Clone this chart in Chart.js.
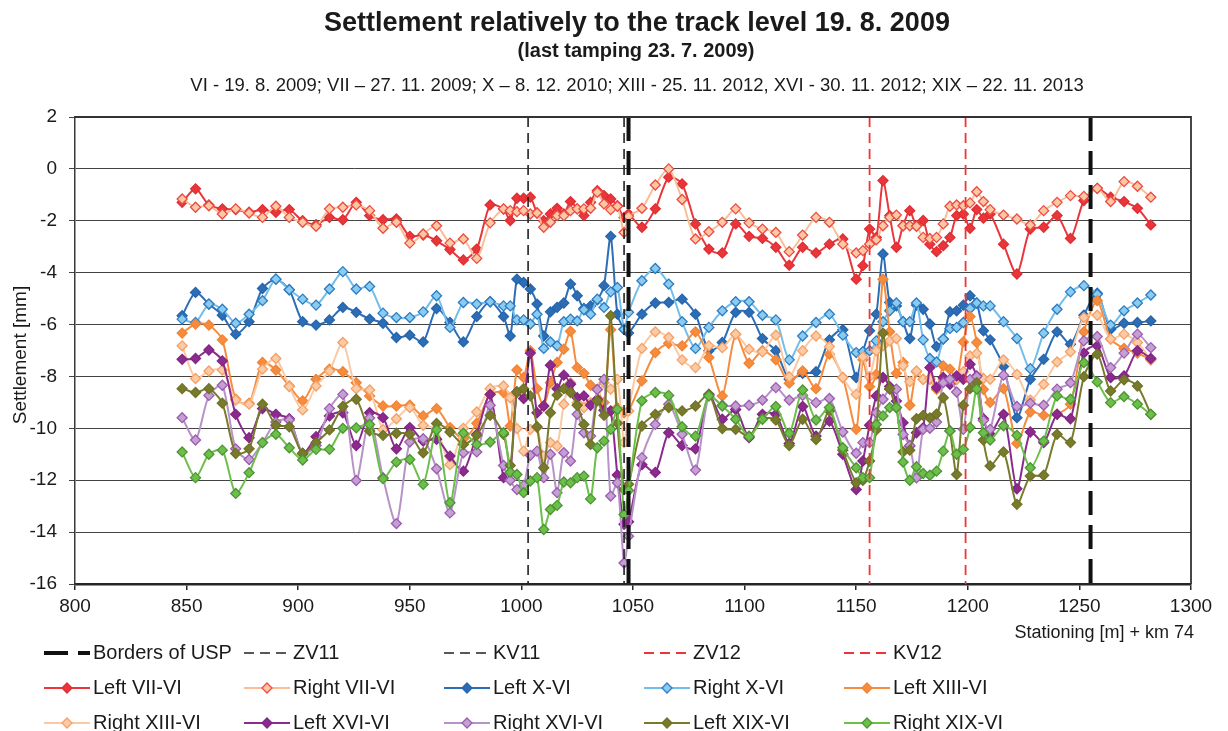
<!DOCTYPE html>
<html><head><meta charset="utf-8">
<script src="https://cdn.jsdelivr.net/npm/chart.js@4.4.1/dist/chart.umd.min.js"></script>
<style>html,body{margin:0;padding:0;background:#fff;overflow:hidden}</style>
</head><body>
<canvas id="c" width="1228" height="731"></canvas>
<script>
// ---------- DATA ----------
const titleMain = 'Settlement relatively to the track level 19. 8. 2009';
const titleSub = '(last tamping 23. 7. 2009)';
const titleDates = 'VI - 19. 8. 2009; VII \u2013 27. 11. 2009; X \u2013 8. 12. 2010; XIII - 25. 11. 2012, XVI - 30. 11. 2012; XIX \u2013 22. 11. 2013';
const yAxisTitle = 'Settlement [mm]';
const xAxisTitle = 'Stationing [m] + km 74';
const xTicks = [800, 850, 900, 950, 1000, 1050, 1100, 1150, 1200, 1250, 1300];
const yTicks = [-16, -14, -12, -10, -8, -6, -4, -2, 0, 2];

const stations = [
 848,854,860,866,872,878,884,890,896,902,908,914,920,926,932,938,944,950,956,962,968,974,980,986,992,
 995,998,1001,1004,1007,1010,1013,1016,1019,1022,1025,1028,1031,1034,1037,1040,1043,1046,
 1048,
 1054,1060,1066,1072,1078,1084,1090,1096,1102,1108,1114,1120,1126,1132,1138,1144,1150,
 1153,1156,1159,1162,1165,1168,1171,1174,1177,1180,1183,1186,1189,1192,1195,1198,1201,1204,1207,1210,
 1216,1222,1228,1234,1240,1246,1252,1258,1264,1270,1276,1282];

const leftVII = [
 -1.29,-0.77,-1.39,-1.54,-1.57,-1.67,-1.57,-1.67,-1.57,-2.00,-2.15,-1.87,-1.96,-1.29,-1.80,-1.96,-1.93,-2.60,-2.55,-2.77,-3.11,-3.51,-3.09,-1.39,-1.55,
 -1.99,-1.13,-1.13,-1.09,-1.70,-2.00,-1.74,-1.52,-1.74,-1.26,-1.54,-1.80,-1.29,-0.84,-1.03,-1.16,-1.42,-1.87,
 -1.74,
 -2.25,-1.54,-0.32,-0.58,-2.12,-3.09,-3.24,-2.12,-2.60,-2.68,-3.02,-3.71,-3.02,-3.24,-2.90,-2.70,-4.25,
 -3.73,-2.32,-2.64,-0.45,-1.80,-3.02,-2.19,-1.61,-2.19,-1.99,-2.90,-3.19,-2.96,-2.64,-1.80,-1.74,-2.29,-1.57,-1.90,-1.74,
 -2.90,-4.05,-2.32,-2.25,-1.80,-2.68,-1.22,-0.75,-1.09,-1.26,-1.52,-2.16];
const rightVII = [
 -1.16,-1.48,-1.42,-1.74,-1.54,-1.70,-1.87,-1.44,-1.87,-2.06,-2.21,-1.54,-1.48,-1.39,-1.61,-2.29,-2.06,-2.86,-2.51,-2.19,-2.86,-2.70,-3.45,-2.08,-1.54,
 -1.61,-1.65,-1.61,-1.74,-1.70,-2.25,-2.06,-1.80,-1.80,-1.61,-1.54,-1.54,-1.52,-0.90,-1.35,-1.57,-1.44,-2.45,
 -1.83,
 -1.52,-0.62,0.00,-1.18,-2.70,-2.42,-2.06,-1.54,-2.08,-2.32,-2.45,-3.19,-2.55,-1.87,-2.06,-2.90,-3.24,
 -3.15,-2.90,-2.73,-2.19,-1.87,-1.78,-2.19,-2.19,-2.21,-2.64,-2.68,-2.64,-2.12,-1.44,-1.39,-1.42,-1.31,-0.88,-1.26,-1.57,
 -1.78,-1.93,-2.16,-1.61,-1.29,-1.03,-1.06,-0.75,-1.26,-0.49,-0.67,-1.09];
const leftX = [
 -5.66,-4.76,-5.21,-5.64,-6.37,-5.89,-4.61,-4.25,-4.66,-5.89,-6.02,-5.82,-5.34,-5.53,-5.79,-5.95,-6.50,-6.41,-6.67,-5.38,-5.92,-6.67,-5.69,-5.12,-5.69,
 -6.44,-4.25,-4.38,-4.63,-5.21,-6.44,-5.51,-5.34,-5.17,-4.44,-4.89,-5.38,-5.28,-5.05,-4.50,-2.60,-5.60,-6.18,
 -6.33,
 -5.60,-5.17,-5.15,-5.02,-5.60,-7.01,-6.69,-5.53,-5.53,-6.54,-7.01,-8.11,-7.88,-7.82,-6.59,-6.20,-8.04,
 -7.05,-6.24,-5.60,-3.28,-5.15,-5.28,-5.89,-6.54,-5.25,-5.41,-5.98,-6.85,-6.56,-5.51,-5.47,-5.25,-4.89,-5.17,-6.24,-6.59,
 -7.62,-9.59,-8.11,-7.34,-6.28,-6.76,-5.64,-4.79,-6.18,-5.95,-5.92,-5.86];
const rightX = [
 -5.79,-5.92,-5.21,-5.41,-5.95,-5.60,-5.08,-4.25,-4.66,-5.02,-5.25,-4.63,-3.96,-4.63,-4.53,-5.56,-5.73,-5.73,-5.51,-4.89,-6.11,-5.15,-5.21,-5.12,-5.28,
 -5.28,-5.82,-5.82,-5.98,-5.60,-6.92,-6.67,-6.82,-5.89,-5.79,-5.86,-5.43,-5.60,-5.02,-5.34,-4.74,-4.57,-6.18,
 -5.53,
 -4.31,-3.84,-4.44,-5.89,-6.92,-6.11,-5.47,-5.12,-5.12,-5.64,-5.82,-7.36,-6.44,-5.92,-5.60,-6.41,-7.08,
 -7.05,-7.01,-6.63,-5.89,-5.47,-5.17,-5.89,-5.89,-5.17,-6.59,-7.31,-7.44,-6.56,-6.15,-6.11,-5.92,-5.38,-5.17,-5.28,-5.28,
 -5.89,-6.54,-7.70,-6.33,-5.41,-4.74,-4.50,-4.83,-6.02,-5.47,-5.17,-4.86];
const leftXIII = [
 -6.33,-5.98,-6.02,-6.59,-8.88,-9.03,-7.46,-7.75,-8.37,-8.94,-8.11,-7.72,-7.82,-8.24,-8.75,-9.14,-9.14,-9.11,-9.52,-9.24,-9.97,-10.40,-9.80,-8.70,-8.62,
 -9.91,-7.75,-8.04,-7.01,-8.47,-9.14,-8.24,-7.46,-6.95,-6.26,-7.66,-7.88,-8.34,-8.50,-9.00,-6.20,-9.20,-9.40,
 -9.33,
 -8.17,-7.08,-6.72,-6.82,-6.28,-7.27,-8.75,-6.37,-7.49,-7.01,-7.36,-8.26,-7.79,-8.47,-7.14,-8.04,-10.04,
 -7.36,-8.39,-7.92,-4.25,-6.28,-7.88,-7.46,-9.11,-7.82,-8.11,-8.11,-8.50,-7.59,-7.72,-8.11,-6.67,-5.69,-6.69,-8.50,-9.00,
 -8.47,-10.58,-9.37,-9.50,-9.45,-9.07,-6.28,-5.08,-6.56,-6.92,-7.10,-7.36];
const rightXIII = [
 -6.82,-8.08,-7.79,-7.75,-8.91,-9.07,-7.72,-7.31,-8.39,-9.29,-8.37,-7.79,-6.69,-8.47,-8.52,-10.05,-9.63,-9.20,-9.88,-10.01,-11.40,-10.00,-9.37,-8.47,-8.37,
 -8.82,-10.01,-10.88,-10.04,-9.97,-11.07,-10.55,-10.68,-9.07,-8.24,-9.01,-9.20,-9.01,-8.91,-8.24,-8.49,-8.11,-10.55,
 -9.33,
 -6.92,-6.28,-6.50,-7.36,-7.66,-6.82,-6.89,-6.37,-6.95,-7.05,-6.41,-8.01,-7.01,-6.44,-6.85,-8.04,-8.69,
 -7.24,-8.01,-7.01,-6.82,-6.63,-6.54,-7.59,-8.20,-7.79,-8.11,-8.08,-8.39,-8.11,-8.11,-8.11,-7.82,-7.21,-7.11,-8.08,-8.11,
 -7.36,-7.92,-8.91,-8.30,-7.44,-7.05,-5.73,-5.64,-6.56,-6.37,-6.69,-7.36];
const leftXVI = [
 -7.34,-7.31,-6.98,-7.40,-9.46,-10.36,-9.24,-9.46,-9.63,-10.97,-10.32,-9.52,-9.40,-10.66,-9.40,-9.59,-10.79,-9.97,-10.49,-10.42,-11.07,-11.65,-10.23,-8.69,-11.90,
 -11.70,-8.60,-8.85,-7.10,-9.40,-9.14,-7.57,-8.47,-7.95,-8.30,-8.82,-8.75,-9.11,-8.88,-9.30,-9.33,-11.80,-13.70,
 -13.60,
 -11.40,-11.70,-10.17,-10.66,-10.79,-8.69,-9.65,-9.27,-10.36,-9.46,-9.46,-10.58,-9.16,-10.30,-9.72,-11.00,-12.36,
 -11.26,-9.88,-8.75,-8.04,-8.39,-8.95,-9.78,-10.68,-10.17,-9.98,-7.66,-8.43,-8.04,-8.30,-7.98,-8.11,-7.53,-7.98,-9.63,-10.23,
 -9.46,-12.33,-10.14,-10.55,-9.46,-9.63,-7.10,-6.82,-8.04,-7.98,-7.01,-7.31];
const rightXVI = [
 -9.59,-10.45,-8.73,-8.34,-10.79,-11.20,-10.55,-9.76,-9.68,-10.97,-10.66,-9.24,-8.69,-12.01,-9.60,-11.90,-13.67,-10.53,-10.40,-11.56,-13.26,-10.94,-10.91,-9.11,-11.43,
 -12.00,-12.36,-12.20,-11.04,-10.88,-11.90,-11.00,-12.48,-10.94,-11.26,-9.46,-10.17,-10.30,-8.50,-8.11,-12.61,-12.10,-15.19,
 -14.16,
 -11.13,-9.85,-9.07,-10.23,-11.61,-8.75,-9.11,-9.14,-9.11,-8.91,-8.43,-8.91,-8.73,-9.01,-8.85,-10.14,-10.96,
 -10.55,-10.55,-9.40,-8.88,-8.49,-8.49,-10.24,-10.66,-11.91,-10.04,-10.00,-9.76,-8.24,-8.11,-8.60,-10.04,-8.11,-8.00,-9.70,-10.04,
 -7.95,-9.16,-9.03,-9.11,-8.49,-8.24,-6.63,-6.46,-7.66,-7.10,-6.37,-6.89];
const leftXIX = [
 -8.47,-8.62,-8.47,-9.03,-10.97,-10.79,-9.07,-9.88,-9.94,-10.97,-10.55,-10.06,-9.16,-8.88,-10.10,-10.27,-10.19,-10.23,-10.94,-9.81,-10.14,-10.62,-10.27,-9.50,-10.23,
 -11.43,-8.60,-8.47,-8.75,-9.94,-11.52,-9.40,-8.72,-8.47,-8.62,-9.11,-9.85,-10.62,-8.94,-9.50,-5.66,-9.80,-12.36,
 -12.16,
 -9.91,-9.46,-9.20,-9.33,-9.14,-8.69,-10.01,-10.04,-10.30,-9.63,-9.68,-10.66,-9.65,-10.43,-9.33,-10.84,-12.10,
 -12.00,-11.26,-10.06,-6.33,-8.47,-9.20,-10.91,-10.84,-9.63,-9.50,-9.60,-9.45,-8.82,-10.10,-11.78,-9.11,-8.47,-8.24,-10.45,-11.45,
 -10.91,-12.93,-11.84,-11.81,-10.23,-10.55,-8.01,-7.14,-8.56,-8.13,-8.37,-9.46];
const rightXIX = [
 -10.91,-11.90,-11.00,-10.84,-12.51,-11.71,-10.55,-10.23,-10.75,-11.22,-10.81,-10.81,-10.00,-9.98,-9.85,-11.94,-11.30,-11.20,-12.16,-10.06,-12.87,-10.19,-10.62,-10.53,-10.17,
 -11.69,-11.78,-12.48,-12.03,-11.90,-13.90,-13.13,-12.97,-12.07,-12.10,-11.90,-11.84,-12.72,-10.75,-10.49,-10.04,-9.27,-13.32,
 -12.40,
 -8.94,-8.62,-8.73,-9.94,-10.30,-8.75,-9.14,-9.65,-10.32,-9.65,-9.16,-10.19,-8.52,-9.68,-9.20,-10.75,-11.52,
 -11.90,-11.90,-9.85,-9.52,-9.20,-9.20,-11.30,-12.00,-11.48,-11.74,-11.81,-11.65,-10.88,-10.10,-11.00,-10.81,-9.97,-8.49,-10.17,-10.45,
 -9.90,-10.27,-11.52,-10.49,-8.75,-8.88,-7.47,-8.21,-9.01,-8.78,-9.07,-9.46];

// vertical reference lines (stationing)
const uspBorders = [1048, 1255];
const zv11 = [1003];
const kv11 = [1046];
const zv12 = [1156];
const kv12 = [1199];

// ---------- BUILD ----------
const FONT = '"Liberation Sans", Arial, Helvetica, sans-serif';
const yMin = yTicks[0], yMax = yTicks[yTicks.length - 1];

function vline(xs) {
  const p = [];
  xs.forEach((x, i) => {
    if (i > 0) p.push({x: x - 1, y: null});
    p.push({x: x, y: yMax}, {x: x, y: yMin});
  });
  return p;
}
function pts(arr) { return stations.map((s, i) => ({x: s, y: arr[i]})); }

const vlines = [
  {label: 'Borders of USP', xs: uspBorders, color: '#111111', width: 4, dash: [24, 10]},
  {label: 'ZV11', xs: zv11, color: '#222222', width: 1.6, dash: [10, 6]},
  {label: 'KV11', xs: kv11, color: '#222222', width: 1.6, dash: [10, 6]},
  {label: 'ZV12', xs: zv12, color: '#EE3434', width: 1.8, dash: [10, 6]},
  {label: 'KV12', xs: kv12, color: '#EE3434', width: 1.8, dash: [10, 6]}
];
const series = [
  {label: 'Left VII-VI', v: leftVII, line: '#E8363A', fill: '#E8363A', edge: '#E02E33'},
  {label: 'Right VII-VI', v: rightVII, line: '#F9BE96', fill: '#FBC8A4', edge: '#EE4A44'},
  {label: 'Left X-VI', v: leftX, line: '#2C6DB5', fill: '#2C6DB5', edge: '#2766AC'},
  {label: 'Right X-VI', v: rightX, line: '#71BEEA', fill: '#8ACBF0', edge: '#2E7CC2'},
  {label: 'Left XIII-VI', v: leftXIII, line: '#F68C3E', fill: '#F68C3E', edge: '#F28435'},
  {label: 'Right XIII-VI', v: rightXIII, line: '#FBC9A3', fill: '#FBCBA6', edge: '#F5A066'},
  {label: 'Left XVI-VI', v: leftXVI, line: '#8B2B8E', fill: '#8B2B8E', edge: '#832585'},
  {label: 'Right XVI-VI', v: rightXVI, line: '#B792C8', fill: '#C49FD2', edge: '#9C5CB0'},
  {label: 'Left XIX-VI', v: leftXIX, line: '#787A2C', fill: '#787A2C', edge: '#707226'},
  {label: 'Right XIX-VI', v: rightXIX, line: '#6CC04A', fill: '#6CC04A', edge: '#4E9436'}
];

const datasets = [];
vlines.forEach((d, i) => datasets.push({
  label: d.label, data: vline(d.xs), borderColor: d.color, borderWidth: d.width,
  borderDash: d.dash, pointRadius: 0, tension: 0, spanGaps: false, order: i
}));
series.forEach((s, i) => datasets.push({
  label: s.label, data: pts(s.v), borderColor: s.line, backgroundColor: s.fill,
  borderWidth: 2, pointStyle: 'rectRot', pointRadius: 5, pointBorderWidth: 1.3,
  pointBackgroundColor: s.fill, pointBorderColor: s.edge, tension: 0.25,
  order: 100 - i, _mk: true
}));

function diamond(ctx, x, y, r) {
  ctx.beginPath();
  ctx.moveTo(x, y - r); ctx.lineTo(x + r, y); ctx.lineTo(x, y + r); ctx.lineTo(x - r, y);
  ctx.closePath();
}

const decor = {
  id: 'decor',
  afterDraw(chart) {
    const ctx = chart.ctx, a = chart.chartArea;
    ctx.save();
    // plot frame (top and right)
    ctx.strokeStyle = '#333333'; ctx.lineWidth = 1.8;
    ctx.beginPath();
    ctx.moveTo(a.left, a.top); ctx.lineTo(a.right, a.top); ctx.lineTo(a.right, a.bottom);
    ctx.stroke();
    // titles
    ctx.fillStyle = '#1a1a1a'; ctx.textAlign = 'center'; ctx.textBaseline = 'middle';
    ctx.font = 'bold 27px ' + FONT; ctx.fillText(titleMain, 637, 24);
    ctx.font = 'bold 20px ' + FONT; ctx.fillText(titleSub, 636, 51);
    ctx.font = '18.5px ' + FONT; ctx.fillText(titleDates, 637, 86);
    // axis titles
    ctx.save(); ctx.translate(21, 355); ctx.rotate(-Math.PI / 2);
    ctx.font = '19px ' + FONT; ctx.fillText(yAxisTitle, 0, 0); ctx.restore();
    ctx.textAlign = 'right'; ctx.font = '18px ' + FONT;
    ctx.fillText(xAxisTitle, 1194, 633);
    // legend
    ctx.textAlign = 'left'; ctx.font = '20px ' + FONT;
    chart.data.datasets.forEach((ds, i) => {
      const col = i % 5, row = Math.floor(i / 5);
      const x0 = 44 + col * 200, y = 653 + row * 35;
      ctx.save();
      ctx.strokeStyle = ds.borderColor; ctx.lineWidth = ds.borderWidth;
      ctx.setLineDash(ds.borderDash || []);
      ctx.beginPath(); ctx.moveTo(x0, y); ctx.lineTo(x0 + 46, y); ctx.stroke();
      ctx.setLineDash([]);
      if (ds._mk) {
        diamond(ctx, x0 + 23, y, ds.pointRadius);
        ctx.fillStyle = ds.pointBackgroundColor; ctx.fill();
        ctx.lineWidth = ds.pointBorderWidth; ctx.strokeStyle = ds.pointBorderColor; ctx.stroke();
      }
      ctx.restore();
      ctx.fillStyle = '#1a1a1a';
      ctx.fillText(ds.label, x0 + 49, y);
    });
    ctx.restore();
  }
};

new Chart(document.getElementById('c'), {
  type: 'line',
  data: {datasets},
  options: {
    responsive: false, devicePixelRatio: 1, animation: false, events: [],
    layout: {padding: {left: 0, right: 37, top: 117, bottom: 0}},
    plugins: {legend: {display: false}, title: {display: false}, tooltip: {enabled: false}},
    scales: {
      x: {
        type: 'linear', min: xTicks[0], max: xTicks[xTicks.length - 1],
        afterBuildTicks: s => { s.ticks = xTicks.map(v => ({value: v})); },
        afterFit: s => { s.height = 147; },
        ticks: {color: '#1a1a1a', font: {size: 19, family: FONT}, padding: 5, maxRotation: 0, autoSkip: false,
                callback: v => String(v)},
        grid: {drawOnChartArea: false, drawTicks: true, tickLength: 6, color: '#262626', lineWidth: 1.5},
        border: {color: '#262626', width: 2.5}
      },
      y: {
        type: 'linear', min: yMin, max: yMax,
        afterBuildTicks: s => { s.ticks = yTicks.map(v => ({value: v})); },
        afterFit: s => { s.width = 75; },
        ticks: {color: '#1a1a1a', font: {size: 19, family: FONT}, padding: 12, autoSkip: false,
                callback: v => String(v)},
        grid: {color: '#444444', lineWidth: 1, drawTicks: true, tickLength: 6, tickColor: '#444444'},
        border: {color: '#3a3a3a', width: 1.5}
      }
    }
  },
  plugins: [decor]
});
</script>
</body></html>
